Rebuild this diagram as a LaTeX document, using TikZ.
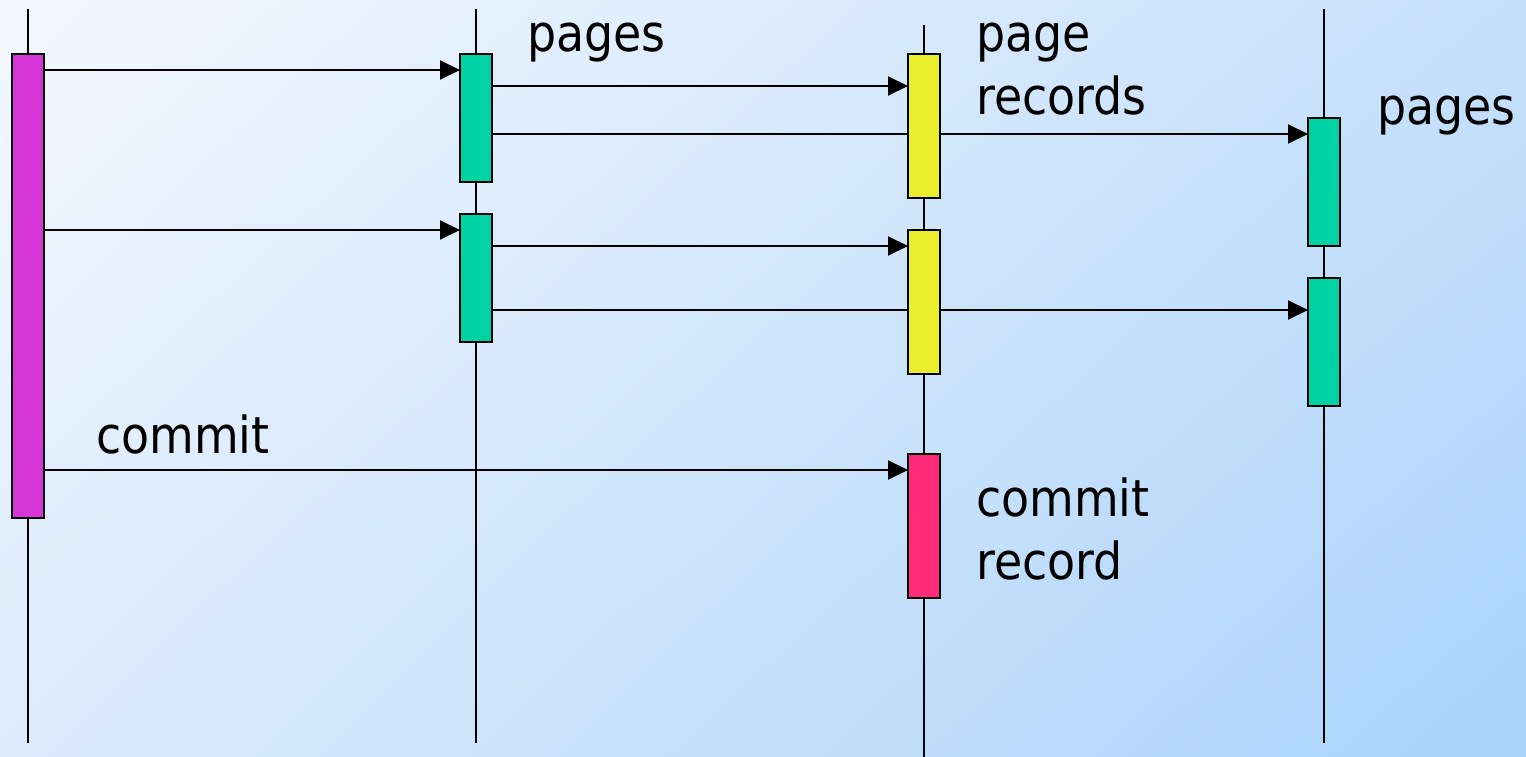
\documentclass[tikz,border=0pt]{standalone}
\usepackage{fontspec}
\setmainfont{DejaVu Sans Condensed}
\usetikzlibrary{arrows.meta,shadings}
\definecolor{bgA}{HTML}{F4F8FE}
\definecolor{bgB}{HTML}{C6E0FB}
\definecolor{bgC}{HTML}{DCEBFC}
\definecolor{bgD}{HTML}{A9D3FA}
\definecolor{magbox}{HTML}{D736D6}
\definecolor{grnbox}{HTML}{00D2A6}
\definecolor{yelbox}{HTML}{EAEE2C}
\definecolor{pnkbox}{HTML}{FF2A78}
\tikzset{
  lifeline/.style={line width=2pt, draw=black},
  msg/.style={line width=2pt, -{Triangle[length=20pt,width=19pt]}},
  act/.style={draw=black, line width=2pt, minimum width=32pt, inner sep=0pt, outer sep=0pt},
  lbl/.style={anchor=base west, inner sep=0pt, font=\fontsize{51}{63}\selectfont}
}
\begin{document}
\begin{tikzpicture}[x=1pt,y=1pt]
\useasboundingbox (0,0) rectangle (1526,-757);
\shade[upper left=bgA, upper right=bgB, lower left=bgC, lower right=bgD] (0,0) rectangle (1526,-757);
% lifelines
\coordinate (L1t) at (28,-9);   \coordinate (L1b) at (28,-743);
\coordinate (L2t) at (476,-9);  \coordinate (L2b) at (476,-743);
\coordinate (L3t) at (924,-25); \coordinate (L3b) at (924,-757);
\coordinate (L4t) at (1324,-9); \coordinate (L4b) at (1324,-743);
\draw[lifeline] (L1t) -- (L1b);
\draw[lifeline] (L2t) -- (L2b);
\draw[lifeline] (L3t) -- (L3b);
\draw[lifeline] (L4t) -- (L4b);
% activation boxes (positioned; drawn later)
\path (28,-286) node[act, minimum height=464pt, fill=magbox] (A) {};
\path (476,-118) node[act, minimum height=128pt, fill=grnbox] (B1) {};
\path (476,-278) node[act, minimum height=128pt, fill=grnbox] (B2) {};
\path (924,-126) node[act, minimum height=144pt, fill=yelbox] (C1) {};
\path (924,-302) node[act, minimum height=144pt, fill=yelbox] (C2) {};
\path (924,-526) node[act, minimum height=144pt, fill=pnkbox] (C3) {};
\path (1324,-182) node[act, minimum height=128pt, fill=grnbox] (D1) {};
\path (1324,-342) node[act, minimum height=128pt, fill=grnbox] (D2) {};
% messages
\draw[msg] (A.east |- 0,-70) -- (B1.west |- 0,-70);
\draw[msg] (B1.east |- 0,-86) -- (C1.west |- 0,-86);
\draw[msg] (B1.east |- 0,-134) -- (D1.west |- 0,-134);
\draw[msg] (A.east |- 0,-230) -- (B2.west |- 0,-230);
\draw[msg] (B2.east |- 0,-246) -- (C2.west |- 0,-246);
\draw[msg] (B2.east |- 0,-310) -- (D2.west |- 0,-310);
\draw[msg] (A.east |- 0,-470) -- (C3.west |- 0,-470);
% redraw boxes on top
\foreach \n/\c in {A/magbox,B1/grnbox,B2/grnbox,C1/yelbox,C2/yelbox,C3/pnkbox,D1/grnbox,D2/grnbox}{
  \draw[line width=2pt, fill=\c] (\n.north west) rectangle (\n.south east);
}
% labels
\node[lbl] (t1) at (527,-52) {pages};
\node[lbl] (t2a) at (976,-52) {page};
\node[lbl] (t2b) at (976,-115) {records};
\node[lbl] (t3) at (1377,-125) {pages};
\node[lbl] (t4) at (96,-453) {commit};
\node[lbl] (t5a) at (976,-516) {commit};
\node[lbl] (t5b) at (976,-579) {record};
\end{tikzpicture}
\end{document}
